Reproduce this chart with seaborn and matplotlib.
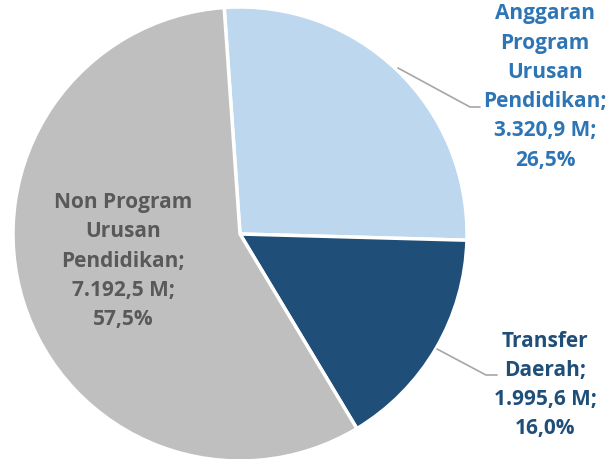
import matplotlib
matplotlib.use("Agg")
import matplotlib.pyplot as plt
import seaborn as sns

sns.set_style("white")
plt.rcParams['font.family'] = ['Open Sans', 'DejaVu Sans']

categories = ["Anggaran\nProgram\nUrusan\nPendidikan", "Transfer\nDaerah", "Non Program\nUrusan\nPendidikan"]
values_m = [3320.9, 1995.6, 7192.5]
percents = [26.5, 16.0, 57.5]
slice_colors = ["#BDD7EE", "#1F4E79", "#BFBFBF"]
label_colors = ["#2E75B6", "#1F4E79", "#595959"]

W, H = 607, 460
fig = plt.figure(figsize=(W / 100, H / 100), dpi=100)
ax = fig.add_axes([0, 0, 1, 1])

def fmt_id(v, dec=1):
    s = f"{v:,.{dec}f}"
    return s.replace(",", "X").replace(".", ",").replace("X", ".")

ax.pie(values_m, colors=slice_colors, startangle=94, counterclock=False,
       center=(240, H - 235), radius=227,
       wedgeprops=dict(edgecolor="white", linewidth=2.5))
ax.set_xlim(0, W)
ax.set_ylim(0, H)
ax.set_aspect("equal")
ax.axis("off")

labels = [f"{c};\n{fmt_id(v)} M;\n{fmt_id(p)}%" for c, v, p in zip(categories, values_m, percents)]
label_pos = [(545, 87), (545, 385), (123, 261)]
for lab, (x, y), col in zip(labels, label_pos, label_colors):
    ax.text(x, H - y, lab, ha="center", va="center", color=col, fontsize=15,
            fontweight="bold", linespacing=1.52)

# leader lines
ax.plot([398, 470, 480], [H - 69, H - 108, H - 108], color="#A6A6A6", lw=1.2)
ax.plot([437, 486, 497], [H - 350, H - 376, H - 376], color="#A6A6A6", lw=1.2)

fig.savefig("out.png", dpi=100)
